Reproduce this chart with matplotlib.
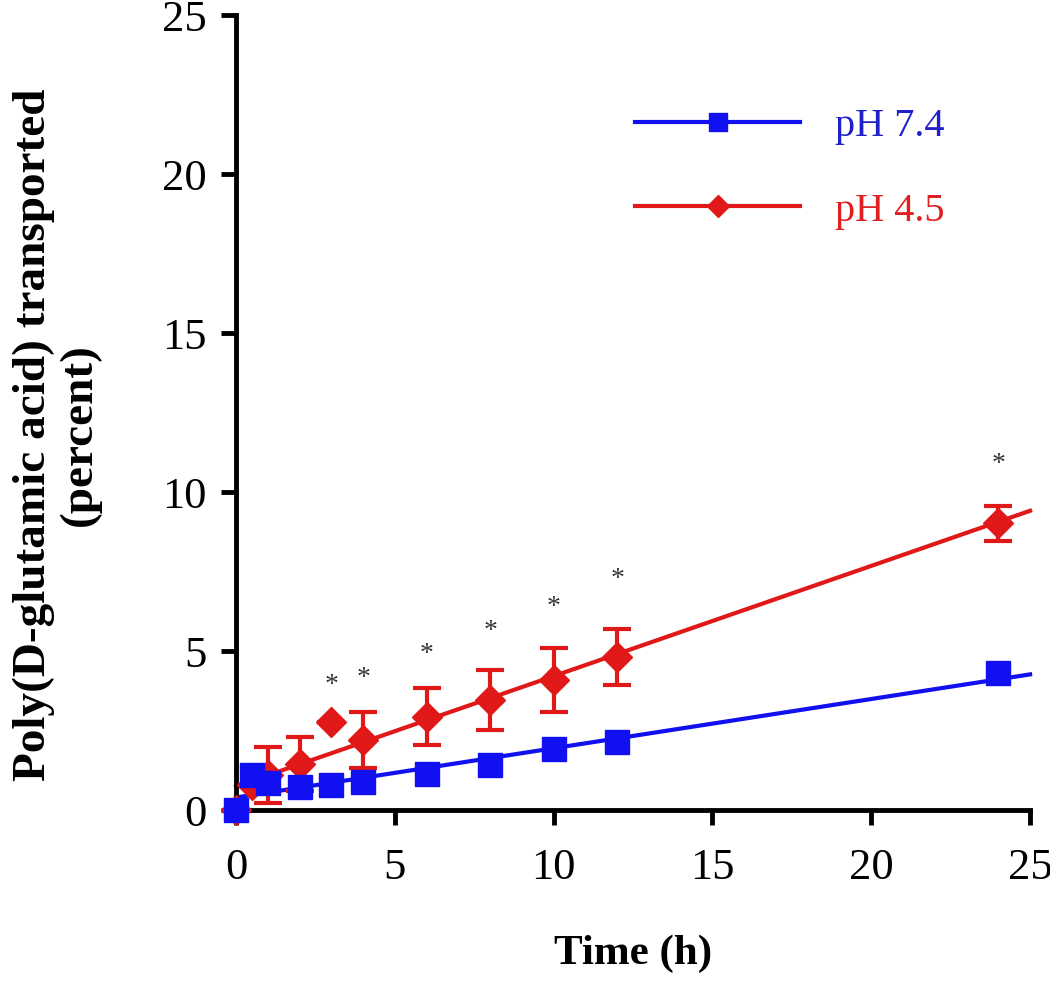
import numpy as np
import matplotlib
matplotlib.use("Agg")
import matplotlib.pyplot as plt
from matplotlib.lines import Line2D

plt.rcParams['font.family'] = ['Liberation Serif', 'DejaVu Serif']

# time points (h)
time_blue = [0, 0.5, 1, 2, 3, 4, 6, 8, 10, 12, 24]
ph74 = [0.0, 1.1, 0.85, 0.72, 0.79, 0.89, 1.13, 1.41, 1.92, 2.14, 4.3]

time_red = [0, 0.5, 1, 2, 3, 4, 6, 8, 10, 12, 24]
ph45 = [0.0, 0.8, 1.1, 1.45, 2.77, 2.2, 2.93, 3.46, 4.09, 4.81, 9.02]
ph45_err = [0, 0, 0.87, 0.85, 0, 0.87, 0.9, 0.95, 1.0, 0.87, 0.55]

# significance markers
star_x = [3, 4, 6, 8, 10, 12, 24]
star_y = [3.93, 4.12, 4.9, 5.6, 6.38, 7.26, 10.85]

blue = '#1010f0'
red = '#e01818'

fig = plt.figure(figsize=(10.5, 9.81), dpi=100)
ax = fig.add_axes([0.2248, 0.1743, 0.7562, 0.8104])

# linear fits over 0-25 h
xfit = np.array([0, 25])
pb = np.polyfit(time_blue, ph74, 1)
pr = np.polyfit(time_red, ph45, 1)
ax.plot(xfit, np.polyval(pb, xfit), color=blue, lw=3, zorder=2, clip_on=False)
ax.plot(xfit, np.polyval(pr, xfit), color=red, lw=3, zorder=2, clip_on=False)

ax.errorbar(time_red, ph45, yerr=ph45_err, fmt='D', color=red, ms=15,
            ecolor=red, elinewidth=3, capsize=10, capthick=3, zorder=3, clip_on=False)
ax.plot(time_blue, ph74, 's', color=blue, ms=17, zorder=4, clip_on=False)

for sx, sy in zip(star_x, star_y):
    ax.text(sx, sy, '*', color='#333333', fontsize=20, ha='center', va='center')

ax.set_xlim(0, 25)
ax.set_ylim(0, 25)
ax.set_xticks([0, 5, 10, 15, 20, 25])
ax.set_yticks([0, 5, 10, 15, 20, 25])
ax.spines['top'].set_visible(False)
ax.spines['right'].set_visible(False)
for s in ['left', 'bottom']:
    ax.spines[s].set_linewidth(3.5)
ax.tick_params(direction='out', length=11, width=3.5, labelsize=32)
ax.tick_params(axis='x', pad=16)
ax.tick_params(axis='y', pad=10)

ax.set_xlabel('Time (h)', fontsize=31, fontweight='bold', labelpad=34)
ax.set_ylabel('Poly(D-glutamic acid) transported\n(percent)', fontsize=34,
              fontweight='bold', labelpad=44, linespacing=1.1, y=0.472)

handles = [Line2D([], [], color=blue, lw=3, marker='s', ms=13),
           Line2D([], [], color=red, lw=3, marker='D', ms=11)]
leg = ax.legend(handles, ['pH 7.4', 'pH 4.5'], loc='upper left',
                bbox_to_anchor=(0.5025, 0.883), frameon=False, fontsize=29,
                handlelength=4.1, handletextpad=0.875, labelspacing=1.17,
                borderpad=0, borderaxespad=0)
leg.get_texts()[0].set_color('#2020c8')
leg.get_texts()[1].set_color('#e02020')

fig.savefig('out.png', dpi=100)
